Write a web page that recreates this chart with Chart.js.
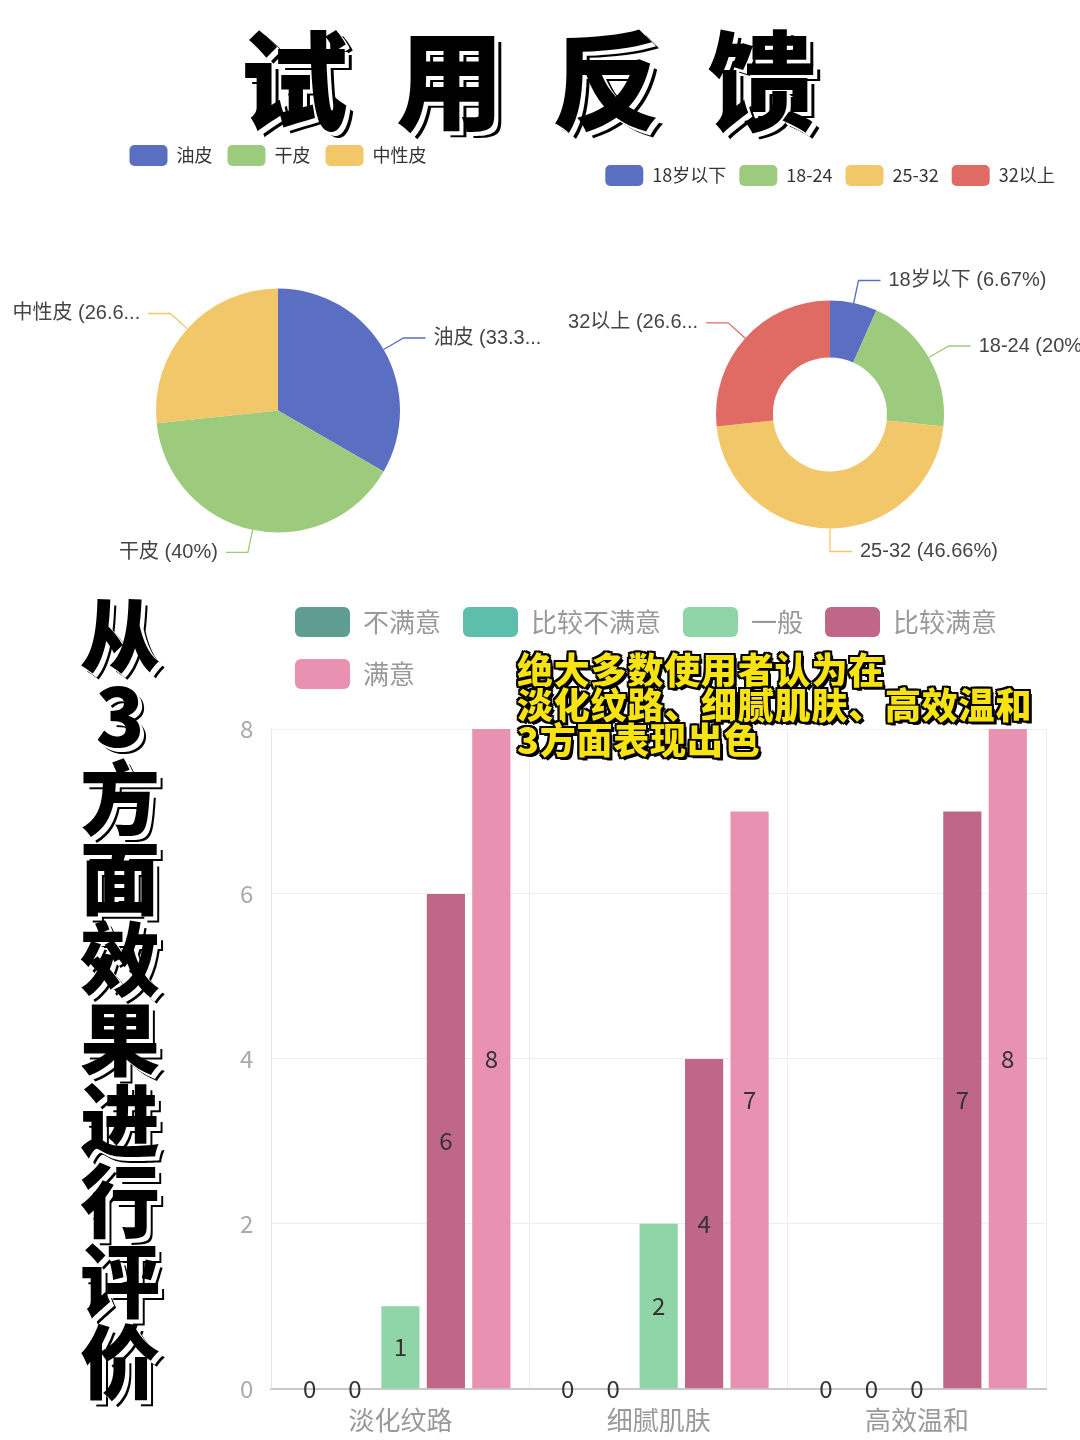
<!DOCTYPE html>
<html><head><meta charset="utf-8">
<script src="https://cdn.jsdelivr.net/npm/chart.js@4.4.1/dist/chart.umd.min.js"></script>
<style>
html,body{margin:0;padding:0;width:1080px;height:1440px;overflow:hidden;background:#fff;font-family:"Noto Sans CJK SC","Noto Sans",sans-serif;}
.box{position:absolute;}
#title{position:absolute;left:240px;top:5px;font-family:"Noto Sans CJK SC";font-weight:900;font-size:108px;line-height:140px;letter-spacing:48px;color:#000;white-space:nowrap;z-index:5;
text-shadow:3px 3px 0 #fff,4px 4px 0 #fff,7px 6px 0 #000;}
#side{position:absolute;left:78px;top:596px;font-family:"Noto Sans CJK SC";font-weight:900;font-size:80px;line-height:84px;letter-spacing:0.6px;color:#000;writing-mode:vertical-rl;text-orientation:upright;z-index:5;
text-shadow:3px 3px 0 #fff,4px 4px 0 #fff,6px 6px 0 #000;}
#note{position:absolute;left:517px;top:651px;font-family:"Noto Sans CJK SC";font-weight:900;font-size:36px;line-height:35px;letter-spacing:0.8px;color:#f7e312;z-index:5;white-space:nowrap;
text-shadow:2px 0 0 #000,-2px 0 0 #000,0 2px 0 #000,0 -2px 0 #000,2px 2px 0 #000,-2px -2px 0 #000,2px -2px 0 #000,-2px 2px 0 #000,3px 3px 0 #000;}
</style></head>
<body>
<div id="title">试用反馈</div>
<div class="box" style="left:0;top:130px;width:556px;height:515px;"><canvas id="pie1"></canvas></div>
<div class="box" style="left:565px;top:152px;width:530px;height:481px;"><canvas id="pie2"></canvas></div>
<div id="side">从3方面效果进行评价</div>
<div class="box" style="left:222px;top:585px;width:840px;height:871px;"><canvas id="bar"></canvas></div>
<div id="note">绝大多数使用者认为在<br>淡化纹路、细腻肌肤、高效温和<br>3方面表现出色</div>
<script>
// ---- data ----
const skinLabels = ['油皮', '干皮', '中性皮'];
const skinValues = [33.33, 40, 26.67];
const skinColors = ['#5a6fc2', '#9ccb7d', '#f1c76a'];

const ageLabels = ['18岁以下', '18-24', '25-32', '32以上'];
const ageValues = [6.67, 20, 46.66, 26.67];
const ageColors = ['#5a6fc2', '#9ccb7d', '#f1c76a', '#e06b65'];

const effectCategories = ['淡化纹路', '细腻肌肤', '高效温和'];
const ratingNames = ['不满意', '比较不满意', '一般', '比较满意', '满意'];
const ratingColors = ['#5f9c92', '#5dbfab', '#8fd5a8', '#c06788', '#e891b0'];
const ratingUnsatisfied = [0, 0, 0];
const ratingSomewhatUnsatisfied = [0, 0, 0];
const ratingNeutral = [1, 2, 0];
const ratingSomewhatSatisfied = [6, 4, 7];
const ratingSatisfied = [8, 7, 8];
const yTicks = [0, 2, 4, 6, 8];

const FONT = '"Noto Sans CJK SC","Noto Sans",sans-serif';
const LFONT = '"Liberation Sans","Noto Sans CJK SC",sans-serif';

// ---- pie label plugin (leader lines) ----
function fitText(ctx, text, maxW) {
  if (ctx.measureText(text).width <= maxW) return text;
  let t = text;
  while (t.length > 1 && ctx.measureText(t + '...').width > maxW) t = t.slice(0, -1);
  return t + '...';
}
const pieLabelPlugin = {
  id: 'pieLabels',
  afterDatasetsDraw(chart, args, opts) {
    if (chart.config.type === 'bar') return;
    const ctx = chart.ctx;
    const meta = chart.getDatasetMeta(0);
    const ds = chart.data.datasets[0];
    ctx.save();
    ctx.font = '20px ' + LFONT;
    ctx.textBaseline = 'middle';
    meta.data.forEach((arc, i) => {
      const p = arc.getProps(['x', 'y', 'startAngle', 'endAngle', 'outerRadius'], true);
      const mid = (p.startAngle + p.endAngle) / 2;
      const r = p.outerRadius;
      const x0 = p.x + Math.cos(mid) * r, y0 = p.y + Math.sin(mid) * r;
      const x1 = p.x + Math.cos(mid) * (r + 23), y1 = p.y + Math.sin(mid) * (r + 23);
      const right = Math.cos(mid) * r >= -5;
      const x2 = x1 + (right ? 22 : -22);
      ctx.strokeStyle = ds.backgroundColor[i];
      ctx.lineWidth = 1.3;
      ctx.beginPath(); ctx.moveTo(x0, y0); ctx.lineTo(x1, y1); ctx.lineTo(x2, y1); ctx.stroke();
      const full = chart.data.labels[i] + ' (' + ds.data[i] + '%)';
      ctx.fillStyle = '#444';
      if (right) {
        const txt = fitText(ctx, full, opts.rightMax ? opts.rightMax - (x2 + 8) : 9999);
        ctx.textAlign = 'left'; ctx.fillText(txt, x2 + 8, y1);
      } else {
        const txt = fitText(ctx, full, opts.leftMin !== undefined ? (x2 - 8) - opts.leftMin : 9999);
        ctx.textAlign = 'right'; ctx.fillText(txt, x2 - 8, y1);
      }
    });
    ctx.restore();
  }
};

function pieOptions(radius, cutout, labelOpts, pad) {
  return {
    responsive: true, maintainAspectRatio: false, animation: false,
    radius: radius, cutout: cutout,
    plugins: {
      pieLabels: labelOpts,
      legend: {
        position: 'top',
        labels: { boxWidth: 38, boxHeight: 21, useBorderRadius: true, borderRadius: 5, padding: pad,
          font: { size: 18, family: FONT }, color: '#333' }
      },
      tooltip: { enabled: false }
    }
  };
}

Chart.register(pieLabelPlugin);

new Chart(document.getElementById('pie1'), {
  type: 'pie',
  data: { labels: skinLabels, datasets: [{ data: skinValues, backgroundColor: skinColors, borderWidth: 0 }] },
  options: pieOptions(122, 0, { leftMin: 8, rightMax: 548 }, 15)
});

new Chart(document.getElementById('pie2'), {
  type: 'doughnut',
  data: { labels: ageLabels, datasets: [{ data: ageValues, backgroundColor: ageColors, borderWidth: 0 }] },
  options: pieOptions(114, '50%', { leftMin: 0 }, 13)
});

// ---- bar chart ----
const barValueLabels = {
  id: 'barValueLabels',
  afterDatasetsDraw(chart) {
    const ctx = chart.ctx;
    ctx.save();
    ctx.font = '24px ' + FONT;
    ctx.fillStyle = '#333';
    ctx.textAlign = 'center'; ctx.textBaseline = 'middle';
    chart.data.datasets.forEach((ds, di) => {
      const meta = chart.getDatasetMeta(di);
      meta.data.forEach((bar, i) => {
        const p = bar.getProps(['x', 'y', 'base'], true);
        ctx.fillText(String(ds.data[i]), p.x, (p.y + p.base) / 2);
      });
    });
    ctx.restore();
  }
};
const legendShift = {
  id: 'legendShift',
  afterLayout(chart) {
    if (chart.legend) { chart.legend.left += 51; chart.legend.right += 51; }
  }
};
const ratingSeries = [ratingUnsatisfied, ratingSomewhatUnsatisfied, ratingNeutral, ratingSomewhatSatisfied, ratingSatisfied];
new Chart(document.getElementById('bar'), {
  type: 'bar',
  data: {
    labels: effectCategories,
    datasets: ratingSeries.map((d, i) => ({ label: ratingNames[i], data: d, backgroundColor: ratingColors[i],
      categoryPercentage: 0.88, barPercentage: 0.84 }))
  },
  options: {
    responsive: true, maintainAspectRatio: false, animation: false,
    layout: { padding: { right: 16, bottom: 4 } },
    plugins: {
      legend: {
        position: 'top', align: 'start',
        labels: { boxWidth: 55, boxHeight: 30, useBorderRadius: true, borderRadius: 6, padding: 22,
          font: { size: 26, family: FONT }, color: '#999' }
      },
      tooltip: { enabled: false }
    },
    scales: {
      x: {
        grid: { color: '#ececec', offset: true, drawTicks: false },
        border: { color: '#c8c8c8', width: 2 },
        ticks: { font: { size: 26, family: FONT }, color: '#999', padding: 16 }
      },
      gap: {
        type: 'category', position: 'top', labels: [''],
        grid: { display: false }, border: { display: false }, ticks: { display: false },
        afterFit(s) { s.height = 30; }
      },
      y: {
        min: 0, max: 8,
        afterBuildTicks(scale) { scale.ticks = yTicks.map(v => ({ value: v })); },
        grid: { color: '#eeeeee', drawTicks: false },
        border: { color: '#e6e6e6' },
        ticks: { font: { size: 24, family: FONT }, color: '#aaa', padding: 18 }
      }
    }
  },
  plugins: [barValueLabels, legendShift]
});
</script>
</body></html>
